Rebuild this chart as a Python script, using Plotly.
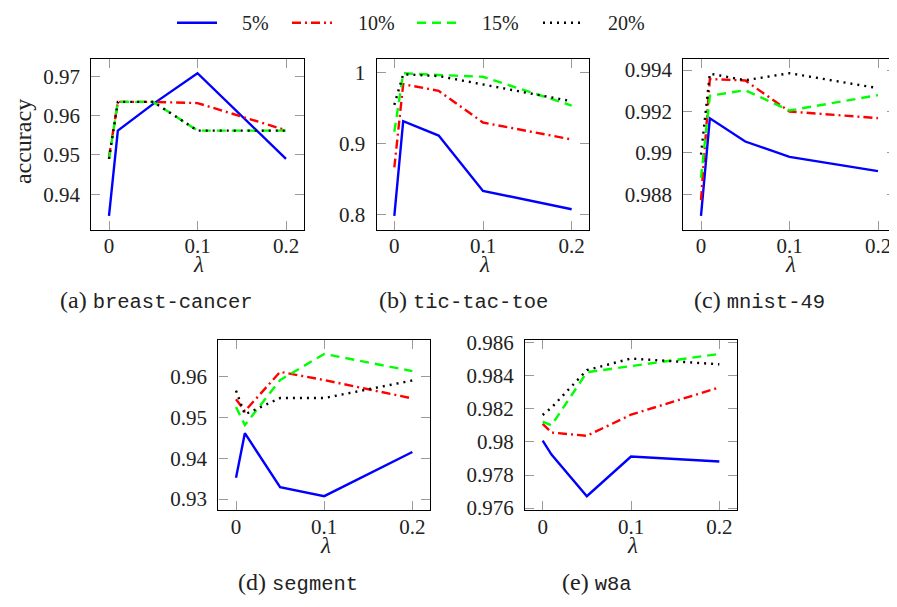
import plotly.graph_objects as go

# ---------------- data ----------------
lambdas = [0, 0.01, 0.05, 0.1, 0.2]
series_names = ["5%", "10%", "15%", "20%"]
x_tickvals = [0, 0.1, 0.2]
x_ticktext = ["0", "0.1", "0.2"]

breast_cancer = [
    [0.9345, 0.9562, 0.9630, 0.9708, 0.9490],
    [0.9495, 0.9635, 0.9635, 0.9632, 0.9563],
    [0.9490, 0.9635, 0.9635, 0.9562, 0.9562],
    [0.9490, 0.9635, 0.9635, 0.9562, 0.9562],
]
tic_tac_toe = [
    [0.7986, 0.9320, 0.9117, 0.8337, 0.8079],
    [0.8667, 0.9840, 0.9747, 0.9300, 0.9062],
    [0.9170, 0.9995, 0.9970, 0.9945, 0.9540],
    [0.9550, 0.9980, 0.9955, 0.9840, 0.9600],
]
mnist_49 = [
    [0.98696, 0.99167, 0.99055, 0.98981, 0.98912],
    [0.98772, 0.99357, 0.99350, 0.99200, 0.99168],
    [0.98879, 0.99276, 0.99303, 0.99205, 0.99279],
    [0.98992, 0.99383, 0.99351, 0.99385, 0.99313],
]
segment = [
    [0.9352, 0.9461, 0.9329, 0.9307, 0.9415],
    [0.9544, 0.9515, 0.9611, 0.9591, 0.9546],
    [0.9525, 0.9481, 0.9591, 0.9655, 0.9613],
    [0.9565, 0.9507, 0.9547, 0.9547, 0.9590],
]
w8a = [
    [0.98008, 0.97924, 0.97672, 0.97912, 0.97882],
    [0.98110, 0.98057, 0.98037, 0.98165, 0.98330],
    [0.98123, 0.98100, 0.98422, 0.98460, 0.98533],
    [0.98163, 0.98208, 0.98435, 0.98505, 0.98470],
]

y_ticks_bc = ([0.94, 0.95, 0.96, 0.97], ["0.94", "0.95", "0.96", "0.97"])
y_ticks_ttt = ([0.8, 0.9, 1.0], ["0.8", "0.9", "1"])
y_ticks_mnist = ([0.988, 0.99, 0.992, 0.994], ["0.988", "0.99", "0.992", "0.994"])
y_ticks_seg = ([0.93, 0.94, 0.95, 0.96], ["0.93", "0.94", "0.95", "0.96"])
y_ticks_w8a = ([0.976, 0.978, 0.98, 0.982, 0.984, 0.986],
               ["0.976", "0.978", "0.98", "0.982", "0.984", "0.986"])

datasets = [
    ("(a)", "breast-cancer", breast_cancer, y_ticks_bc),
    ("(b)", "tic-tac-toe", tic_tac_toe, y_ticks_ttt),
    ("(c)", "mnist-49", mnist_49, y_ticks_mnist),
    ("(d)", "segment", segment, y_ticks_seg),
    ("(e)", "w8a", w8a, y_ticks_w8a),
]

# ---------------- styling / layout ----------------
OFF = 8                       # page body margin of the html page
W, H = 897 - OFF, 607 - OFF
colors = ["#0000ff", "#ff0000", "#00ff00", "#000000"]
dashes = ["solid", "9px,4px,2px,4px", "9px,6px", "2px,5px"]
LW = 2.4
SERIF = "Liberation Serif, Times New Roman, serif"
MONO = "Liberation Mono"
TXT = "#222"

# pixel boxes of each panel in window pixels (x0, x1, y_top, y_bottom, caption cx, cy)
boxes = [
    (91.3, 303.7, 52.3, 228.7, 156, 301.7),
    (376.6, 589.4, 52.3, 228.7, 463, 301.7),
    (683.3, 895.7, 52.3, 228.7, 759, 301.7),
    (218.4, 430.0, 341.7, 517.7, 298, 591.7),
    (525.0, 737.0, 341.7, 517.7, 597, 591.7),
]

def px(x):
    return (x - OFF) / W

def py(y):
    return 1 - (y - OFF) / H

fig = go.Figure()
layout = dict(
    width=W, height=H,
    margin=dict(l=0, r=0, t=0, b=0),
    paper_bgcolor="white", plot_bgcolor="white",
    showlegend=False,
    font=dict(family=SERIF, size=20, color=TXT),
)
annotations = []
shapes = []

for i, (tag, name, series, (yt, ytt)) in enumerate(datasets):
    k = "" if i == 0 else str(i + 1)
    x0, x1, yt0, yb0, cx, cy = boxes[i]
    for j, vals in enumerate(series):
        fig.add_trace(go.Scatter(
            x=lambdas, y=vals, mode="lines", name=series_names[j],
            line=dict(color=colors[j], width=LW, dash=dashes[j]),
            xaxis="x" + k, yaxis="y" + k, showlegend=False,
        ))
    allv = [v for s in series for v in s]
    lo, hi = min(allv), max(allv)
    pad = 0.1 * (hi - lo)
    xmin, xmax = min(lambdas), max(lambdas)
    xpad = 0.1 * (xmax - xmin)
    common = dict(showline=True, linecolor="black", linewidth=1.2, mirror="ticks",
                  ticks="inside", ticklen=9, tickwidth=1.3, tickcolor="#9a9a9a",
                  showgrid=False, zeroline=False,
                  tickfont=dict(family=SERIF, size=21, color=TXT))
    layout["xaxis" + k] = dict(
        domain=[px(x0), px(x1)], anchor="y" + k,
        range=[xmin - xpad, xmax + xpad],
        tickmode="array", tickvals=x_tickvals, ticktext=x_ticktext,
        ticklabelstandoff=-3,
        **common)
    layout["yaxis" + k] = dict(
        domain=[py(yb0), py(yt0)], anchor="x" + k,
        range=[lo - pad, hi + pad],
        tickmode="array", tickvals=yt, ticktext=ytt,
        ticklabelstandoff=6,
        **common)
    # lambda label
    annotations.append(dict(
        x=px((x0 + x1) / 2 + 1), y=py(yb0 + 36), xref="paper", yref="paper",
        text="<i>λ</i>", showarrow=False, xanchor="center", yanchor="middle",
        font=dict(family=SERIF, size=23, color=TXT)))
    # caption
    annotations.append(dict(
        x=px(cx), y=py(cy), xref="paper", yref="paper",
        text=f"{tag} <span style=\"font-family:{MONO};font-size:20.5px\">{name}</span>",
        showarrow=False, xanchor="center", yanchor="middle",
        font=dict(family=SERIF, size=24, color=TXT)))

# y-axis label
annotations.append(dict(
    x=px(23), y=py(138), xref="paper", yref="paper", text="accuracy",
    textangle=-90, showarrow=False, xanchor="center", yanchor="middle",
    font=dict(family=SERIF, size=24, color=TXT)))

# legend (drawn manually to follow the original layout)
leg_line_x = [177, 292, 417, 543]
leg_text_x = [240, 356, 480, 606]
leg_y = 15
for j in range(4):
    shapes.append(dict(
        type="line", xref="paper", yref="paper",
        x0=px(leg_line_x[j]), x1=px(leg_line_x[j] + 40),
        y0=py(leg_y), y1=py(leg_y),
        line=dict(color=colors[j], width=LW, dash=dashes[j])))
    annotations.append(dict(
        x=px(leg_text_x[j]), y=py(leg_y), xref="paper", yref="paper",
        text=series_names[j], showarrow=False, xanchor="left", yanchor="middle",
        font=dict(family=SERIF, size=20, color=TXT)))

layout["annotations"] = annotations
layout["shapes"] = shapes
fig.update_layout(**layout)
fig.write_html("out.html")
